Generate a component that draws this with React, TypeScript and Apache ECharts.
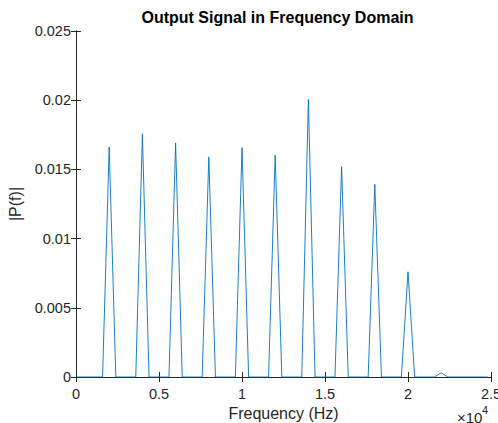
import React, { useEffect, useRef } from "react";
import * as echarts from "echarts";

// Frequency bin spacing (Hz) and one-sided spectrum magnitude |P(f)| per bin
const binWidth = 400;
const magnitudes = [
  0, 0, 0, 0, 0, 0.01662, 0, 0, 0, 0,
  0.01757, 0, 0, 0, 0, 0.01691, 0, 0, 0, 0,
  0.0159, 0, 0, 0, 0, 0.01657, 0, 0, 0, 0,
  0.01604, 0, 0, 0, 0, 0.02005, 0, 0, 0, 0,
  0.0152, 0, 0, 0, 0, 0.01392, 0, 0, 0, 0,
  0.0076, 0, 0, 0, 0, 0.0003, 0, 0, 0, 0,
  0, 0, 0,
];
const xTicks = [0, 5000, 10000, 15000, 20000, 25000];
const yTicks = [0, 0.005, 0.01, 0.015, 0.02, 0.025];

const titleText = "Output Signal in Frequency Domain";
const xLabel = "Frequency (Hz)";
const yLabel = "|P(f)|";

export default function App() {
  const ref = useRef<HTMLDivElement>(null);
  useEffect(() => {
    if (!ref.current) return;
    const chart = echarts.init(ref.current, null, { renderer: "svg" });
    const data = magnitudes.map((v, i) => [i * binWidth, v]);
    const font = "Liberation Sans, Arial, Helvetica, sans-serif";
    const axisColor = "#262626";
    const baseAxis = {
      axisLine: { show: true, lineStyle: { color: axisColor, width: 1 } },
      axisTick: { show: true, inside: true, length: 5, lineStyle: { color: axisColor } },
      splitLine: { show: false },
    };
    chart.setOption({
      animation: false,
      backgroundColor: "#ffffff",
      grid: {
        left: 76,
        right: 7,
        top: 31,
        bottom: 46,
        containLabel: false,
        outerBoundsMode: "none",
      },
      xAxis: [
        {
          ...baseAxis,
          type: "value",
          min: xTicks[0],
          max: xTicks[xTicks.length - 1],
          interval: 5000,
          position: "bottom",
          name: xLabel,
          nameLocation: "middle",
          nameGap: 28,
          nameTextStyle: { fontFamily: font, fontSize: 16, color: axisColor },
          axisLabel: {
            margin: 9,
            fontFamily: font,
            fontSize: 14.5,
            color: axisColor,
            formatter: (v: number) => String(v / 10000),
          },
        },
        {
          ...baseAxis,
          type: "value",
          min: xTicks[0],
          max: xTicks[xTicks.length - 1],
          interval: 5000,
          position: "top",
          axisLabel: { show: false },
        },
      ],
      yAxis: [
        {
          ...baseAxis,
          type: "value",
          min: yTicks[0],
          max: yTicks[yTicks.length - 1],
          interval: 0.005,
          position: "left",
          name: yLabel,
          nameLocation: "middle",
          nameGap: 38,
          nameRotate: 90,
          nameTextStyle: { fontFamily: font, fontSize: 16, color: axisColor },
          axisLabel: {
            margin: 5,
            fontFamily: font,
            fontSize: 14.5,
            color: axisColor,
            formatter: (v: number) => String(Number(v.toFixed(4))),
          },
        },
        {
          ...baseAxis,
          type: "value",
          min: yTicks[0],
          max: yTicks[yTicks.length - 1],
          interval: 0.005,
          position: "right",
          axisLabel: { show: false },
        },
      ],
      graphic: [
        {
          type: "text",
          x: 277.5,
          y: 17,
          style: {
            text: titleText,
            align: "center",
            verticalAlign: "middle",
            fontFamily: font,
            fontWeight: "bold",
            fontSize: 16,
            fill: "#000000",
          },
        },
        {
          type: "text",
          x: 457,
          y: 417,
          style: {
            text: "×10",
            align: "left",
            verticalAlign: "middle",
            fontFamily: font,
            fontSize: 15,
            fill: axisColor,
          },
        },
        {
          type: "text",
          x: 482,
          y: 410,
          style: {
            text: "4",
            align: "left",
            verticalAlign: "middle",
            fontFamily: font,
            fontSize: 11,
            fill: axisColor,
          },
        },
      ],
      series: [
        {
          type: "line",
          data,
          xAxisIndex: 0,
          yAxisIndex: 0,
          showSymbol: false,
          symbol: "none",
          lineStyle: { color: "#0072BD", width: 0.9 },
          silent: true,
        },
      ],
    });
    return () => chart.dispose();
  }, []);
  return (
    <div
      ref={ref}
      style={{ position: "fixed", left: 0, top: 0, width: 498, height: 423, background: "#fff" }}
    />
  );
}
